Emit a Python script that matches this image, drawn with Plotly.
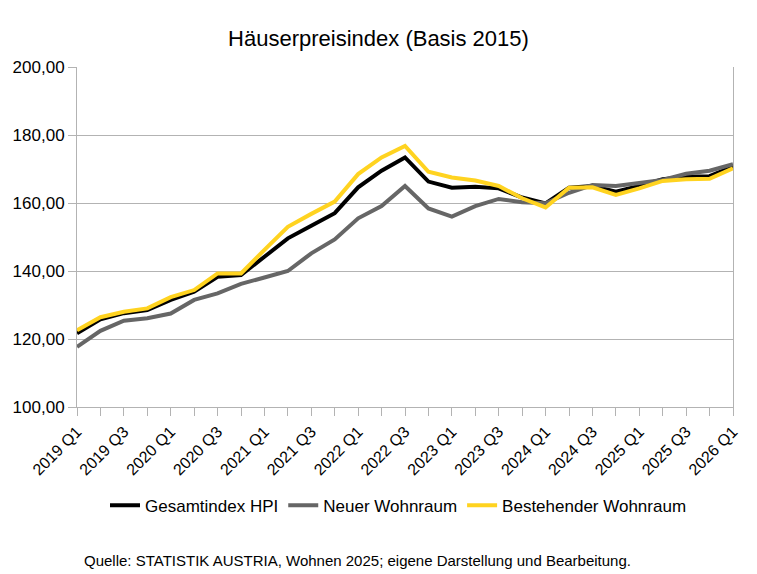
import plotly.graph_objects as go

quarters = [f"{y} Q{q}" for y in range(2019, 2026) for q in range(1, 5)] + ["2026 Q1"]

gesamt = [121.7, 125.8, 127.6, 128.5, 131.5, 133.9, 138.3, 138.8, 144.2, 149.6,
          153.3, 157.0, 164.6, 169.5, 173.4, 166.3, 164.5, 164.8, 164.3, 161.6,
          159.9, 164.5, 165.0, 163.3, 165.0, 167.0, 167.7, 167.9, 170.7]
neu = [117.7, 122.4, 125.4, 126.1, 127.5, 131.5, 133.4, 136.2, 138.1, 140.0,
       145.2, 149.3, 155.5, 159.1, 165.0, 158.4, 156.0, 159.1, 161.2, 160.2,
       159.9, 163.0, 165.3, 165.0, 165.9, 166.8, 168.6, 169.5, 171.4]
bestehend = [122.6, 126.4, 128.0, 129.0, 132.3, 134.4, 139.3, 139.3, 146.2, 153.0,
             156.8, 160.4, 168.5, 173.4, 176.8, 169.2, 167.5, 166.6, 165.0, 161.4,
             158.7, 164.5, 164.6, 162.4, 164.3, 166.5, 167.0, 167.1, 170.2]

series = [("Gesamtindex HPI", gesamt, "#000000"),
          ("Neuer Wohnraum", neu, "#666666"),
          ("Bestehender Wohnraum", bestehend, "#ffd320")]

fig = go.Figure()
for name, vals, col in series:
    fig.add_trace(go.Scatter(x=quarters, y=vals, mode="lines", name=name,
                             line=dict(color=col, width=4)))

ticktext = [q if i % 2 == 0 else "" for i, q in enumerate(quarters)]

fig.update_layout(
    width=757, height=574,
    margin=dict(l=77, r=24, t=67, b=167),
    paper_bgcolor="white", plot_bgcolor="white",
    font=dict(family="Liberation Sans, Arial, sans-serif", size=16, color="#000000"),
    title=dict(text="Häuserpreisindex (Basis 2015)", x=0.5, xanchor="center",
               y=1 - 38 / 574, yanchor="middle", font=dict(size=22)),
    showlegend=True,
    legend=dict(orientation="h", x=(398.5 - 77) / 656, xanchor="center", y=-0.29, yanchor="middle",
                font=dict(size=17), tracegroupgap=0),
    separators=",.",
)
fig.update_xaxes(type="category", range=[0, len(quarters) - 1],
                 tickvals=quarters, ticktext=ticktext, tickangle=-45,
                 ticks="outside", ticklen=8, tickcolor="#b3b3b3",
                 showline=True, linecolor="#b3b3b3", linewidth=1,
                 showgrid=False, zeroline=False, tickfont=dict(size=16))
fig.update_yaxes(range=[100, 200], dtick=20, tickformat=".2f",
                 ticks="outside", ticklen=8, tickcolor="#b3b3b3",
                 showline=True, mirror=True, linecolor="#b3b3b3", linewidth=1,
                 showgrid=True, gridcolor="#b3b3b3", gridwidth=1, zeroline=False,
                 tickfont=dict(size=17))

fig.add_annotation(text="Quelle: STATISTIK AUSTRIA, Wohnen 2025; eigene Darstellung und Bearbeitung.",
                   xref="paper", yref="paper", x=(82 - 77) / 656, xanchor="left",
                   y=(407 - 560) / 340, yanchor="middle", showarrow=False,
                   font=dict(size=15))

fig.write_html("out.html")
